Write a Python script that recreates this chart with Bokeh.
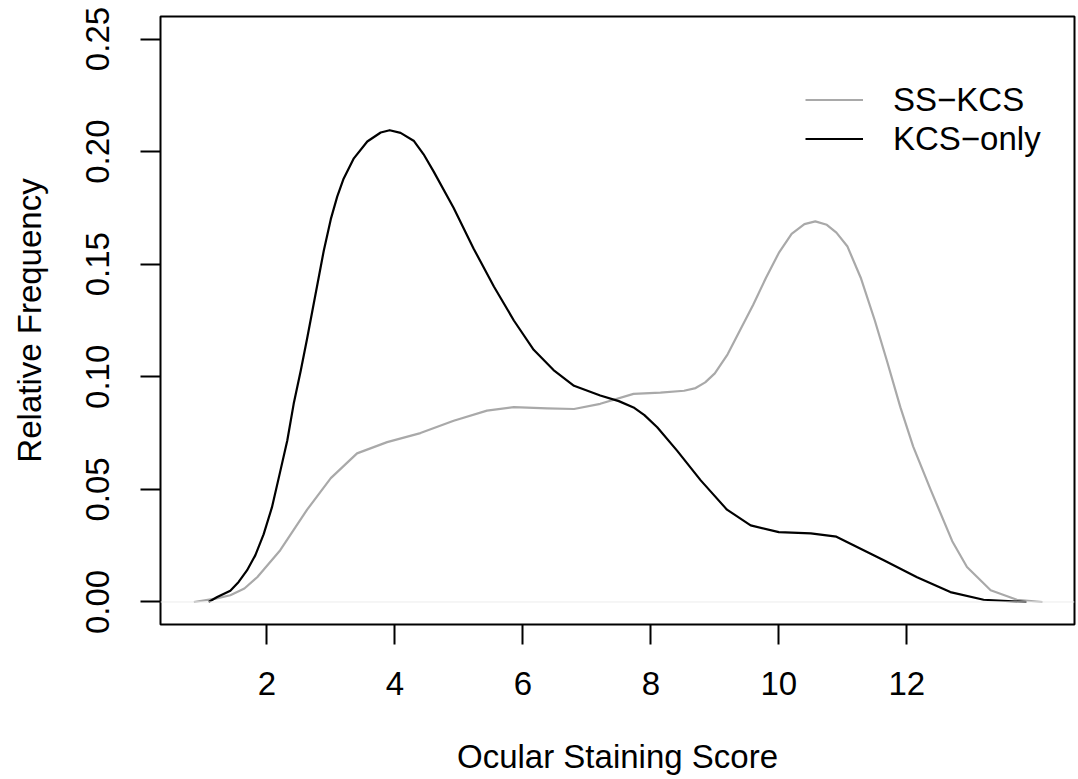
from bokeh.plotting import figure
from bokeh.models import Range1d, FixedTicker, PrintfTickFormatter, Span, Legend, LegendItem
from bokeh.embed import file_html
from bokeh.resources import INLINE

# --- data ---
ss_kcs_x = [0.86, 1.20, 1.43, 1.65, 1.85, 2.21, 2.63, 3.00, 3.41, 3.88, 4.40, 4.92, 5.44, 5.86,
            6.38, 6.80, 7.21, 7.73, 8.15, 8.52, 8.70, 8.85, 9.00, 9.20, 9.40, 9.60, 9.80, 10.00,
            10.20, 10.40, 10.57, 10.75, 10.90, 11.07, 11.28, 11.50, 11.69, 11.90, 12.10,
            12.37, 12.71, 12.94, 13.31, 13.72, 14.12]
ss_kcs_y = [0.000, 0.0015, 0.003, 0.006, 0.011, 0.023, 0.041, 0.055, 0.066, 0.071, 0.075, 0.0805,
            0.085, 0.0865, 0.086, 0.0857, 0.088, 0.0924, 0.093, 0.0938, 0.0950, 0.0975, 0.1015,
            0.110, 0.121, 0.132, 0.144, 0.155, 0.1635, 0.1678, 0.169, 0.1675, 0.164, 0.158, 0.144,
            0.125, 0.107, 0.0864, 0.069, 0.050, 0.027, 0.0155, 0.0052, 0.001, 0.000]

kcs_only_x = [1.09, 1.225, 1.43, 1.56, 1.69, 1.82, 1.95, 2.08, 2.21, 2.32, 2.42, 2.53, 2.63,
              2.71, 2.79, 2.89, 3.00, 3.10, 3.20, 3.36, 3.57, 3.78, 3.92, 4.09, 4.30,
              4.45, 4.61, 4.92, 5.23, 5.55, 5.86, 6.17, 6.48, 6.80, 7.21, 7.50, 7.73, 7.90,
              8.10, 8.41, 8.78, 9.19, 9.56, 10.00, 10.50, 10.90, 11.12, 11.64, 12.16, 12.68,
              13.20, 13.87]
kcs_only_y = [0.000, 0.0022, 0.005, 0.0089, 0.014, 0.0207, 0.030, 0.042, 0.058, 0.0717, 0.088,
              0.1027, 0.117, 0.129, 0.141, 0.156, 0.170, 0.180, 0.188, 0.197, 0.2045, 0.2085,
              0.2095, 0.2083, 0.2047, 0.1988, 0.191, 0.175, 0.157, 0.140, 0.125, 0.112, 0.103,
              0.096, 0.0917, 0.0892, 0.0864, 0.083, 0.0776, 0.0672, 0.054, 0.041, 0.034, 0.031,
              0.0305, 0.029, 0.0259, 0.0185, 0.011, 0.0044, 0.001, 0.000]

x_ticks = [2, 4, 6, 8, 10, 12]
y_ticks = [0.00, 0.05, 0.10, 0.15, 0.20, 0.25]
series_names = ["SS\u2212KCS", "KCS\u2212only"]
x_title = "Ocular Staining Score"
y_title = "Relative Frequency"

FONT = "Liberation Sans"
FS = "33px"

p = figure(width=1078, height=779, output_backend="svg", toolbar_location=None,
           x_range=Range1d(0.339, 14.62), y_range=Range1d(-0.0100, 0.2600),
           min_border_left=160, min_border_right=4, min_border_top=16, min_border_bottom=155)
p.background_fill_color = "white"
p.border_fill_color = "white"
p.outline_line_color = "black"
p.outline_line_width = 2
p.xgrid.visible = False
p.ygrid.visible = False

# faint zero line
p.add_layout(Span(location=0, dimension="width", line_color="#ececec", line_width=1))

r_ss = p.line(ss_kcs_x, ss_kcs_y, line_color="#a9a9a9", line_width=2.2, line_join="round")
r_kcs = p.line(kcs_only_x, kcs_only_y, line_color="black", line_width=2.2, line_join="round")

for ax in (p.xaxis[0], p.yaxis[0]):
    ax.axis_line_color = None
    ax.major_tick_line_color = "black"
    ax.major_tick_line_width = 2
    ax.major_tick_out = 20
    ax.major_tick_in = 0
    ax.minor_tick_out = 0
    ax.minor_tick_in = 0
    ax.major_label_text_font = FONT
    ax.major_label_text_font_size = FS
    ax.major_label_text_color = "black"
    ax.axis_label_text_font = FONT
    ax.axis_label_text_font_size = FS
    ax.axis_label_text_font_style = "normal"
    ax.axis_label_text_color = "black"

p.xaxis.ticker = FixedTicker(ticks=x_ticks)
p.yaxis.ticker = FixedTicker(ticks=y_ticks)
p.yaxis.formatter = PrintfTickFormatter(format="%.2f")
p.yaxis.major_label_orientation = "vertical"
p.xaxis.axis_label = x_title
p.yaxis.axis_label = y_title
p.xaxis.major_label_standoff = 27
p.xaxis.axis_label_standoff = 40
p.yaxis.major_label_standoff = 31
p.yaxis.axis_label_standoff = 36

legend = Legend(items=[LegendItem(label=series_names[0], renderers=[r_ss]),
                       LegendItem(label=series_names[1], renderers=[r_kcs])],
                location=(645, 466), orientation="vertical")
legend.border_line_color = None
legend.background_fill_alpha = 0
legend.padding = 0
legend.margin = 0
legend.spacing = 0
legend.glyph_width = 58
legend.glyph_height = 39
legend.label_height = 39
legend.label_standoff = 30
legend.label_text_font = FONT
legend.label_text_font_size = FS
legend.label_text_color = "black"
p.add_layout(legend)

open("out.html", "w").write(file_html(p, INLINE))
